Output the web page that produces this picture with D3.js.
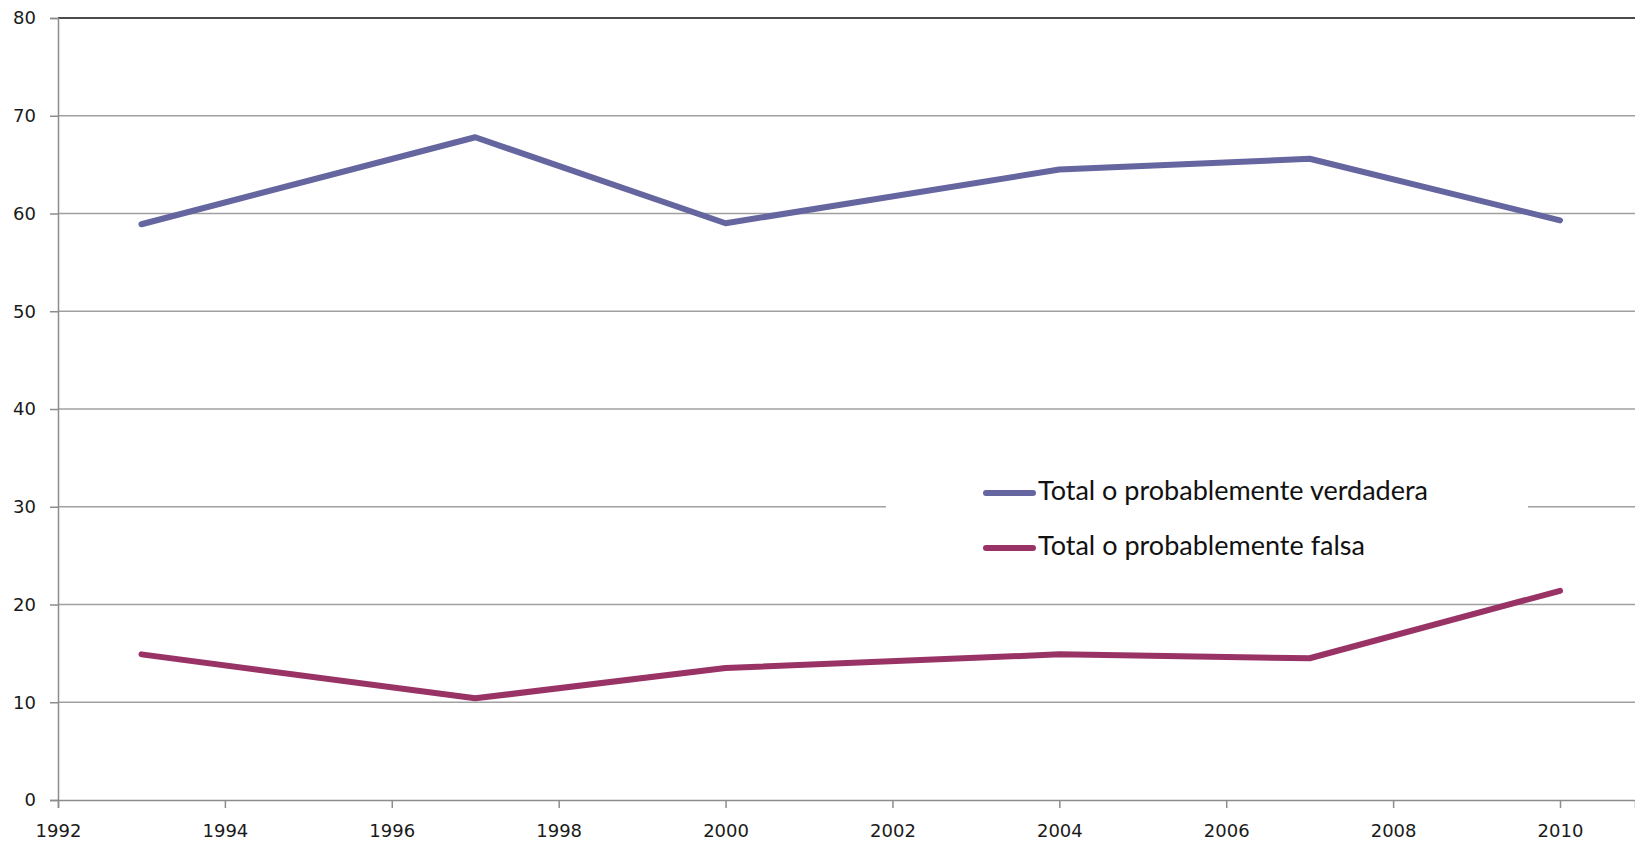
<!DOCTYPE html>
<html><head><meta charset="utf-8">
<script src="https://cdn.jsdelivr.net/npm/d3@7"></script>
<style>body{margin:0;background:#fff}svg{display:block}</style>
</head><body><svg id="c" width="1635" height="842"></svg>
<script>
const years = [1993, 1997, 2000, 2004, 2007, 2010];
const verdadera = [58.9, 67.8, 59.0, 64.5, 65.6, 59.3];
const falsa = [14.9, 10.4, 13.5, 14.9, 14.5, 21.4];
const seriesNames = ["Total o probablemente verdadera", "Total o probablemente falsa"];
const seriesColors = ["#65659f", "#993366"];
const yTicks = [0, 10, 20, 30, 40, 50, 60, 70, 80];
const xTicks = [1992, 1994, 1996, 1998, 2000, 2002, 2004, 2006, 2008, 2010];

const svg = d3.select("#c");
const W = 1635, H = 842;
const x0 = 58, yTop = 18, yBot = 800;
const x = d3.scaleLinear().domain([1992, 2010]).range([x0, 1560]);
const y = d3.scaleLinear().domain([0, 80]).range([yBot, yTop]);

// gridlines
svg.append("g").selectAll("line").data(yTicks.filter(d => d > 0 && d < 80)).join("line")
  .attr("x1", x0).attr("x2", W).attr("y1", d => y(d)).attr("y2", d => y(d))
  .attr("stroke", "#a0a0a0").attr("stroke-width", 1.5);
// top border
svg.append("line").attr("x1", x0).attr("x2", W).attr("y1", y(80)).attr("y2", y(80))
  .attr("stroke", "#111").attr("stroke-width", 1.5);

// y axis
const yAxis = svg.append("g").attr("transform", `translate(${x0},0)`)
  .call(d3.axisLeft(y).tickValues(yTicks).tickSize(8).tickPadding(14));
yAxis.select(".domain").attr("stroke", "#8c8c8c").attr("stroke-width", 1.5);
yAxis.selectAll(".tick line").attr("stroke", "#8c8c8c").attr("stroke-width", 1.5);
yAxis.selectAll("text").attr("font-family", "DejaVu Sans").attr("font-size", 18).attr("fill", "#1a1a1a");

// x axis
const xAxis = svg.append("g").attr("transform", `translate(0,${yBot})`)
  .call(d3.axisBottom(x.copy().domain([1992, 2010 + (W - 1560) / ((1560 - x0) / 18)]).range([x0, W]))
    .tickValues(xTicks).tickSize(8).tickPadding(16).tickFormat(d3.format("d")));
xAxis.select(".domain").attr("stroke", "#8c8c8c").attr("stroke-width", 1.5);
xAxis.selectAll(".tick line").attr("stroke", "#8c8c8c").attr("stroke-width", 1.5);
xAxis.selectAll("text").attr("font-family", "DejaVu Sans").attr("font-size", 18).attr("fill", "#1a1a1a");

// lines
const line = d3.line().x((d, i) => x(years[i])).y(d => y(d));
[verdadera, falsa].forEach((s, k) => {
  svg.append("path").datum(s).attr("d", line).attr("fill", "none")
    .attr("stroke", seriesColors[k]).attr("stroke-width", 6)
    .attr("stroke-linecap", "round").attr("stroke-linejoin", "round");
});

// legend
const lg = svg.append("g");
lg.append("rect").attr("x", 886).attr("y", 466).attr("width", 642).attr("height", 108).attr("fill", "#fff");
const textLens = [390, 327];
seriesNames.forEach((n, k) => {
  const cy = 493 + k * 55;
  lg.append("line").attr("x1", 986).attr("x2", 1033).attr("y1", cy).attr("y2", cy)
    .attr("stroke", seriesColors[k]).attr("stroke-width", 6).attr("stroke-linecap", "round");
  lg.append("text").attr("x", 1038).attr("y", cy + 7)
    .attr("font-family", "Lato").attr("font-size", 26.5).attr("fill", "#111")
    .attr("textLength", textLens[k]).attr("lengthAdjust", "spacingAndGlyphs").text(n);
});
</script></body></html>
